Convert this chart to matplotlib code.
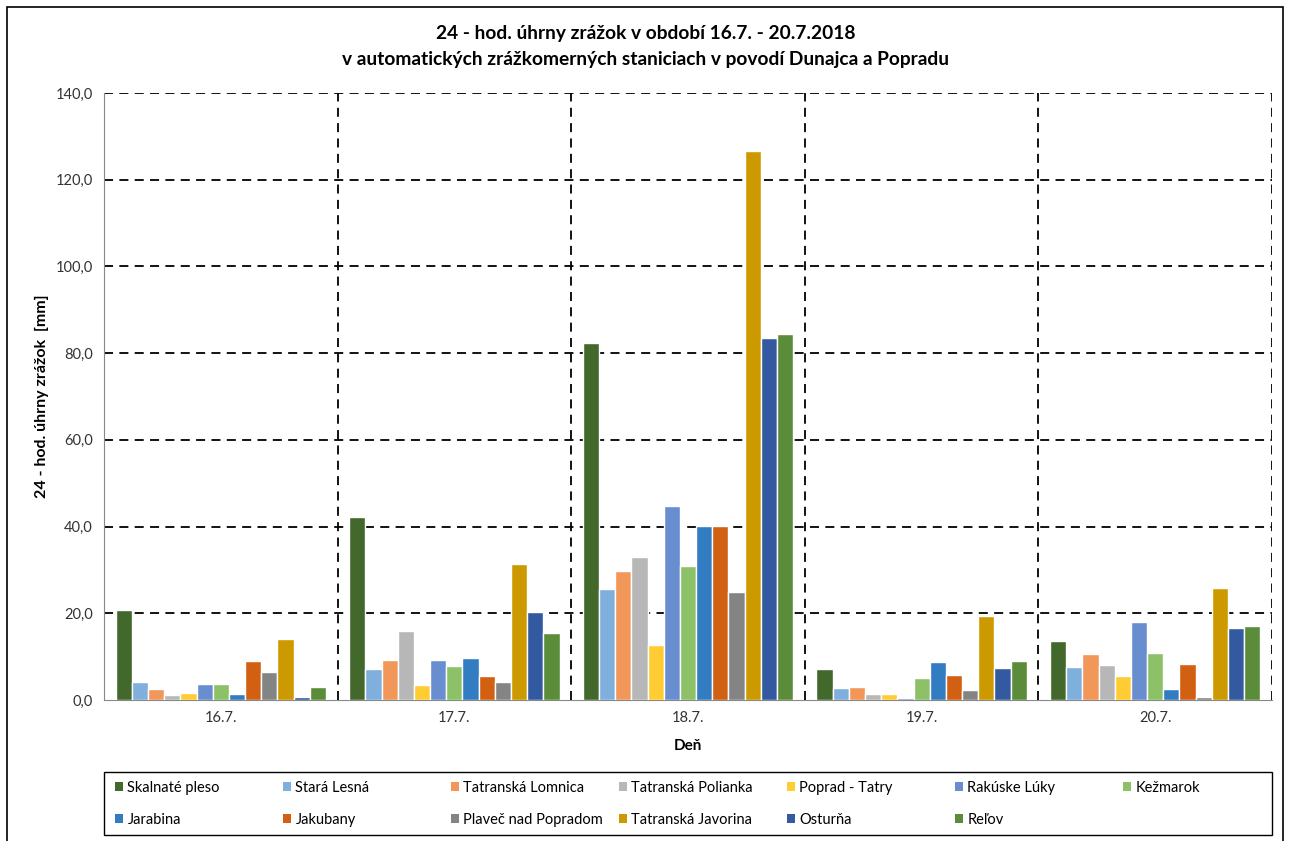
import matplotlib.pyplot as plt
import numpy as np
from matplotlib.patches import Rectangle
from matplotlib.ticker import FuncFormatter

plt.rcParams['font.family'] = ['Lato', 'DejaVu Sans']

dni = ['16.7.', '17.7.', '18.7.', '19.7.', '20.7.']
stanice = ['Skalnaté pleso', 'Stará Lesná', 'Tatranská Lomnica', 'Tatranská Polianka',
           'Poprad - Tatry', 'Rakúske Lúky', 'Kežmarok', 'Jarabina', 'Jakubany',
           'Plaveč nad Popradom', 'Tatranská Javorina', 'Osturňa', 'Reľov']

# úhrny zrážok [mm] po staniciach, hodnoty pre jednotlivé dni
skalnate_pleso = [20.7, 42.1, 82.3, 7.1, 13.6]
stara_lesna = [4.1, 7.2, 25.6, 2.7, 7.5]
tatr_lomnica = [2.6, 9.3, 29.7, 3.1, 10.7]
tatr_polianka = [1.2, 15.8, 33.0, 1.3, 8.1]
poprad_tatry = [1.7, 3.5, 12.8, 1.3, 5.5]
rakuske_luky = [3.8, 9.2, 44.7, 0.4, 18.0]
kezmarok = [3.8, 7.8, 31.0, 5.0, 10.9]
jarabina = [1.4, 9.7, 40.2, 8.8, 2.5]
jakubany = [9.0, 5.5, 40.2, 5.8, 8.3]
plavec = [6.5, 4.2, 24.9, 2.3, 0.7]
tatr_javorina = [14.0, 31.4, 126.6, 19.4, 25.8]
osturna = [0.6, 20.2, 83.5, 7.3, 16.7]
relov = [3.1, 15.5, 84.4, 9.1, 17.1]

hodnoty = [skalnate_pleso, stara_lesna, tatr_lomnica, tatr_polianka, poprad_tatry,
           rakuske_luky, kezmarok, jarabina, jakubany, plavec, tatr_javorina,
           osturna, relov]

farby = ['#43682B', '#7FAFDD', '#F1975A', '#B7B7B7', '#FFCD33', '#698ED0', '#8CC168',
         '#327DC2', '#D26012', '#848484', '#CC9A00', '#335AA1', '#5B8C3A']

W, H = 1291, 841
fig = plt.figure(figsize=(W / 100, H / 100), dpi=100)
ax = fig.add_axes([104 / W, 1 - 700 / H, 1168 / W, 607 / H])

# ramcek okolo celeho grafu
fig.patches.append(Rectangle((7 / W, -0.05), 1276 / W, 1.05 - 7 / H,
                             transform=fig.transFigure, fill=False,
                             edgecolor='black', linewidth=1.2))

x = np.arange(len(dni))
n = len(stanice)
w = 0.9 / n
bary = []
for i in range(n):
    b = ax.bar(x - 0.45 + w * (i + 0.5), hodnoty[i], width=w, color=farby[i],
               edgecolor='white', linewidth=1.0, label=stanice[i], zorder=3)
    bary.append(b)

ax.set_xlim(-0.5, 4.5)
ax.set_ylim(0, 140)
ax.set_yticks(np.arange(0, 141, 20))
ax.yaxis.set_major_formatter(FuncFormatter(lambda v, p: f'{v:.1f}'.replace('.', ',')))
ax.set_xticks(x)
ax.set_xticklabels(dni)
ax.tick_params(length=0, labelsize=10.5, colors='#333333', pad=8)

# mriezka - ciarkovane ciary
dash = (0, (5, 3.5))
for yv in range(20, 141, 20):
    ax.axhline(yv, color='black', linestyle=dash, linewidth=1.3, zorder=1)
for xv in np.arange(0.5, 5, 1.0):
    ax.axvline(xv, color='black', linestyle=dash, linewidth=1.3, zorder=1)

for s in ['top', 'right']:
    ax.spines[s].set_visible(False)
ax.spines['left'].set_color('#888888')
ax.spines['bottom'].set_color('#888888')

ax.set_ylabel('24 - hod. úhrny zrážok  [mm]', fontsize=11.5, fontweight='bold', labelpad=5)
ax.set_xlabel('Deň', fontsize=11, fontweight='bold', labelpad=10)

fig.text(0.5, 1 - 34 / H, '24 - hod. úhrny zrážok v období 16.7. - 20.7.2018',
         ha='center', va='center', fontsize=13.8, fontweight='bold')
fig.text(0.5, 1 - 59 / H, 'v automatických zrážkomerných staniciach v povodí Dunajca a Popradu',
         ha='center', va='center', fontsize=13.8, fontweight='bold')

# legenda: ramcek a polozky v 7 stlpcoch po riadkoch
fig.patches.append(Rectangle((104 / W, 1 - 835 / H), 1168 / W, 63 / H,
                             transform=fig.transFigure, fill=False,
                             edgecolor='black', linewidth=1.0))
for i in range(n):
    stlpec, riadok = i % 7, i // 7
    lx = (115 + 168 * stlpec) / W
    ly = 1 - (788 + 32 * riadok) / H
    lg = fig.legend([bary[i]], [stanice[i]], loc='center left', bbox_to_anchor=(lx, ly),
                    frameon=False, fontsize=10.5, borderpad=0, borderaxespad=0,
                    handlelength=0.55, handleheight=0.55, handletextpad=0.3)
    for h in lg.legend_handles:
        h.set_edgecolor('none')

fig.savefig('out.png', dpi=100)
